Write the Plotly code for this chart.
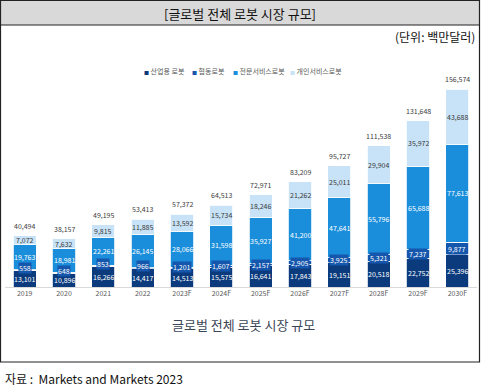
import plotly.graph_objects as go

years = ["2019", "2020", "2021", "2022", "2023F", "2024F", "2025F", "2026F", "2027F", "2028F", "2029F", "2030F"]
industrial = [13101, 10896, 16266, 14417, 14513, 15575, 16641, 17843, 19151, 20518, 22752, 25396]
collab = [558, 648, 853, 966, 1201, 1607, 2157, 2905, 3925, 5321, 7237, 9877]
professional = [19763, 18981, 22261, 26145, 28066, 31598, 35927, 41200, 47641, 55796, 65688, 77613]
personal = [7072, 7632, 9815, 11885, 13592, 15734, 18246, 21262, 25011, 29904, 35972, 43688]
totals = [40494, 38157, 49195, 53413, 57372, 64513, 72971, 83209, 95727, 111538, 131648, 156574]

series_names = ["산업용 로봇", "협동로봇", "전문서비스로봇", "개인서비스로봇"]
series_values = [industrial, collab, professional, personal]
colors = ["#0b3b7d", "#1557ad", "#1b8edb", "#c8e3f7"]
label_colors = ["white", "white", "white", "#3a3a3a"]

FONT = "Noto Sans CJK KR, Noto Sans, sans-serif"
W, H = 481, 390
ML, MR, MT, MB = 5, 4, 80, 103
PW = W - ML - MR
PH = H - MT - MB


def px(x):
    return (x - ML) / PW


def py(y):
    return (H - MB - y) / PH


fig = go.Figure()
for name, vals, col in zip(series_names, series_values, colors):
    fig.add_trace(go.Bar(
        x=years, y=vals, name=name, marker=dict(color=col, line=dict(color="white", width=0.8)),
        showlegend=False, hoverinfo="skip"))

annotations = []
# segment labels (x given as category index)
for i, yr in enumerate(years):
    base = 0
    for k, vals in enumerate(series_values):
        v = vals[i]
        ann = dict(x=i, y=base + v / 2, xref="x", yref="y", text=f"{v:,}", showarrow=False,
                   font=dict(family=FONT, size=7, color=label_colors[k]))
        if k == 1:
            ann.update(bgcolor=colors[1], borderpad=0)
            if v < 1000:
                ann.update(yshift=2)
            elif v < 1500:
                ann.update(yshift=1)
        annotations.append(ann)
        base += v
    annotations.append(dict(x=i, y=totals[i], xref="x", yref="y", text=f"{totals[i]:,}", showarrow=False,
                            yanchor="bottom", yshift=3, font=dict(family=FONT, size=7, color="#404040")))

# legend
leg_x = [142, 190, 231, 288]
for name, col, lx in zip(series_names, colors, leg_x):
    annotations.append(dict(x=px(lx), y=py(71), xref="paper", yref="paper", xanchor="left", yanchor="middle",
                            text=f"<span style='color:{col};font-size:5px'>■</span> {name}", showarrow=False,
                            font=dict(family=FONT, size=7, color="#595959")))

# header / titles / source
annotations += [
    dict(x=px(240), y=py(14), xref="paper", yref="paper", text="[글로벌 전체 로봇 시장 규모]", showarrow=False,
         xanchor="center", yanchor="middle", font=dict(family=FONT, size=13, color="#111111")),
    dict(x=px(477), y=py(37), xref="paper", yref="paper", text="(단위: 백만달러)", showarrow=False,
         xanchor="right", yanchor="middle", font=dict(family=FONT, size=12, color="#111111")),
    dict(x=px(243), y=py(324), xref="paper", yref="paper", text="글로벌 전체 로봇 시장 규모", showarrow=False,
         xanchor="center", yanchor="middle", font=dict(family=FONT, size=13, color="#3b4756")),
    dict(x=px(3), y=py(378), xref="paper", yref="paper", text="자료 :  Markets and Markets 2023", showarrow=False,
         xanchor="left", yanchor="middle", font=dict(family=FONT, size=12, color="#111111")),
]

shapes = [
    dict(type="rect", xref="paper", yref="paper", x0=px(0.5), x1=px(479.5), y0=py(25), y1=py(0.5),
         fillcolor="#d9d9d9", line=dict(width=0), layer="below"),
    dict(type="rect", xref="paper", yref="paper", x0=px(0.5), x1=px(479.5), y0=py(362), y1=py(0.5),
         line=dict(color="#222222", width=1.2)),
    dict(type="line", xref="paper", yref="paper", x0=px(0.5), x1=px(479.5), y0=py(25), y1=py(25),
         line=dict(color="#222222", width=1)),
]

fig.update_layout(
    width=W, height=H, autosize=False,
    margin=dict(l=ML, r=MR, t=MT, b=MB),
    barmode="stack", bargap=0.41,
    plot_bgcolor="white", paper_bgcolor="white",
    font=dict(family=FONT),
    xaxis=dict(type="category", range=[-0.5, 11.5], showline=True, linecolor="#d9d9d9", linewidth=1,
               ticks="", showgrid=False, tickfont=dict(family=FONT, size=7, color="#595959")),
    yaxis=dict(range=[0, 163700], visible=False, showgrid=False),
    annotations=annotations, shapes=shapes,
)

fig.write_html("out.html", config={"displayModeBar": False, "staticPlot": True},
               post_script="document.body.style.margin='0';document.body.style.overflow='hidden';")
